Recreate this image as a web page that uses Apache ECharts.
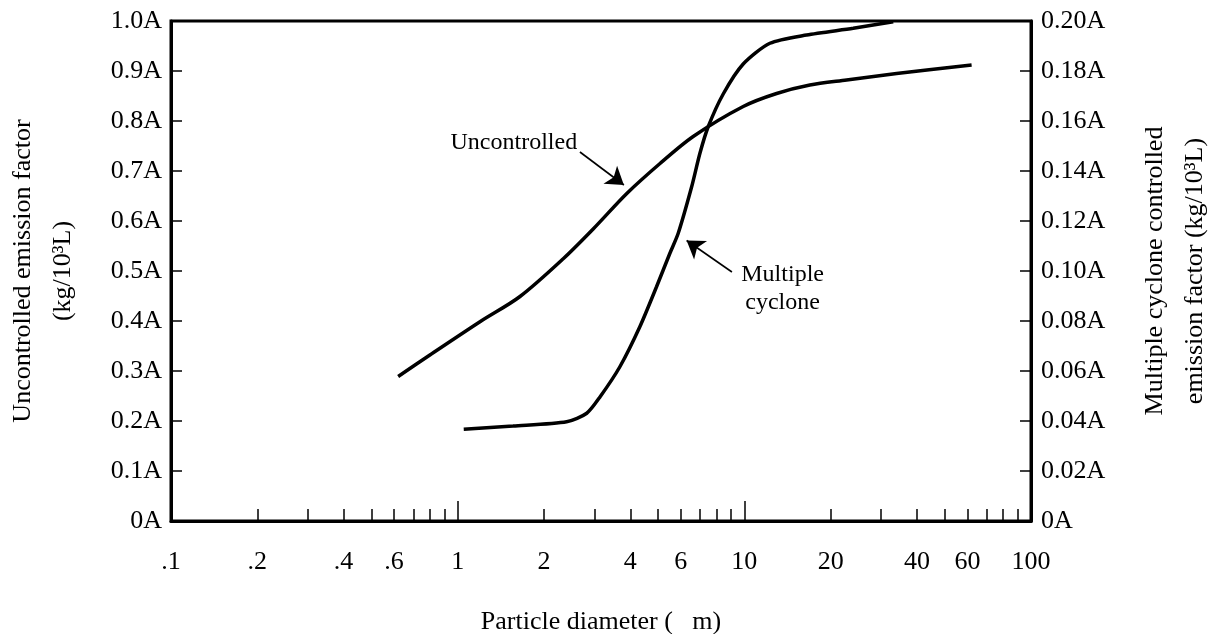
<!DOCTYPE html>
<html><head><meta charset="utf-8">
<script src="https://cdn.jsdelivr.net/npm/echarts@6/dist/echarts.min.js"></script>
<style>html,body{margin:0;padding:0;background:#fff}#c{width:1210px;height:634px}</style>
</head><body><div id="c"></div>
<script>
// ---- data ----
const xTickValues = [0.1, 0.2, 0.4, 0.6, 1, 2, 4, 6, 10, 20, 40, 60, 100];
const xTickLabels = ['.1', '.2', '.4', '.6', '1', '2', '4', '6', '10', '20', '40', '60', '100'];
const xMinorTickValues = [0.2, 0.3, 0.4, 0.5, 0.6, 0.7, 0.8, 0.9, 2, 3, 4, 5, 6, 7, 8, 9, 20, 30, 40, 50, 60, 70, 80, 90];
const xMajorTickValues = [1, 10];

const uncontrolledDiameter = [0.62, 0.80, 1.20, 1.65, 2.34, 2.97, 3.89, 5.08, 6.63, 9.91, 12.96, 16.93, 22.74, 33.98, 62.06];
const uncontrolledFactor   = [0.289, 0.332, 0.399, 0.449, 0.525, 0.584, 0.655, 0.715, 0.769, 0.829, 0.855, 0.872, 0.882, 0.895, 0.912];

const cycloneDiameter = [1.05, 1.56, 2.40, 2.82, 3.14, 3.68, 4.32, 4.94, 5.50, 5.88, 6.55, 7.00, 7.48, 8.44, 9.91, 12.28, 16.49, 23.98, 33.07];
const cycloneFactor   = [0.0367, 0.0380, 0.0397, 0.0431, 0.0497, 0.0617, 0.0777, 0.0937, 0.1071, 0.1151, 0.1337, 0.1471, 0.1577, 0.1708, 0.1828, 0.1911, 0.1944, 0.1971, 0.1997];

// ---- helpers ----
const lg = v => +Math.log10(v).toFixed(10);
const FONT = "'Liberation Serif','Times New Roman',serif";
const FS = 26;   // axis text
const FA = 24;   // annotation text

const chart = echarts.init(document.getElementById('c'), null, {renderer: 'canvas'});

const xLabelFormatter = function (val) {
  for (let i = 0; i < xTickValues.length; i++) {
    if (Math.abs(lg(xTickValues[i]) - val) < 1e-6) return xTickLabels[i];
  }
  return '';
};

const option = {
  backgroundColor: '#fff',
  animation: false,
  grid: {left: 171, right: 179, top: 21, bottom: 113, show: true, borderColor: '#000', borderWidth: 3,
         containLabel: false, outerBoundsMode: 'none'},
  xAxis: [
    {
      type: 'value', min: -1, max: 2, position: 'bottom',
      axisLine: {show: true, onZero: false, lineStyle: {color: '#000', width: 3}},
      axisTick: {show: true, inside: true, length: 12, lineStyle: {color: '#000', width: 1.5},
                 customValues: xMinorTickValues.map(lg)},
      axisLabel: {show: true, margin: 28, color: '#000', fontSize: FS, fontFamily: FONT,
                  customValues: xTickValues.map(lg), formatter: xLabelFormatter},
      splitLine: {show: false},
      name: 'Particle diameter (   m)', nameLocation: 'middle', nameGap: 88,
      nameTextStyle: {color: '#000', fontSize: FS, fontFamily: FONT}
    },
    {
      type: 'value', min: -1, max: 2, position: 'bottom',
      axisLine: {show: false, onZero: false},
      axisTick: {show: true, inside: true, length: 20, lineStyle: {color: '#000', width: 1.5},
                 customValues: xMajorTickValues.map(lg)},
      axisLabel: {show: false},
      splitLine: {show: false}
    }
  ],
  yAxis: [
    {
      type: 'value', min: 0, max: 1, interval: 0.1, position: 'left',
      axisLine: {show: true, onZero: false, lineStyle: {color: '#000', width: 3}},
      axisTick: {show: true, inside: true, length: 11, lineStyle: {color: '#000', width: 1.5}},
      axisLabel: {margin: 9, color: '#000', fontSize: FS, fontFamily: FONT,
                  formatter: v => (v === 0 ? '0A' : v.toFixed(1) + 'A')},
      splitLine: {show: false},
      name: 'Uncontrolled emission factor\n(kg/10³L)', nameLocation: 'middle', nameRotate: 90, nameGap: 88,
      nameTextStyle: {color: '#000', fontSize: FS, fontFamily: FONT, lineHeight: 40, align: 'center'}
    },
    {
      type: 'value', min: 0, max: 0.2, interval: 0.02, position: 'right',
      axisLine: {show: true, onZero: false, lineStyle: {color: '#000', width: 3}},
      axisTick: {show: true, inside: true, length: 11, lineStyle: {color: '#000', width: 1.5}},
      axisLabel: {margin: 10, color: '#000', fontSize: FS, fontFamily: FONT,
                  formatter: v => (v === 0 ? '0A' : v.toFixed(2) + 'A')},
      splitLine: {show: false},
      name: 'Multiple cyclone controlled\nemission factor (kg/10³L)', nameLocation: 'middle', nameRotate: 90, nameGap: 104,
      nameTextStyle: {color: '#000', fontSize: FS, fontFamily: FONT, lineHeight: 40, align: 'center'}
    }
  ],
  series: [
    {
      name: 'Uncontrolled', type: 'line', xAxisIndex: 0, yAxisIndex: 0,
      data: uncontrolledDiameter.map((d, i) => [lg(d), uncontrolledFactor[i]]),
      showSymbol: false, smooth: 0.3,
      lineStyle: {color: '#000', width: 3.5}, itemStyle: {color: '#000'},
      markLine: {
        silent: true, symbol: ['none', 'arrow'], symbolSize: 17,
        lineStyle: {color: '#000', width: 1.6, type: 'solid'}, label: {show: false},
        data: [[{coord: [lg(2.67), 0.738]}, {coord: [lg(3.80), 0.672]}]]
      },
      markPoint: {
        silent: true,
        data: [{coord: [lg(1.57), 0.756], symbol: 'circle', symbolSize: 0.01,
                itemStyle: {color: 'rgba(0,0,0,0)'},
                label: {show: true, position: 'inside', formatter: 'Uncontrolled', color: '#000',
                        fontSize: FA, fontFamily: FONT}}]
      }
    },
    {
      name: 'Multiple cyclone', type: 'line', xAxisIndex: 0, yAxisIndex: 1,
      data: cycloneDiameter.map((d, i) => [lg(d), cycloneFactor[i]]),
      showSymbol: false, smooth: 0.25,
      lineStyle: {color: '#000', width: 3.5}, itemStyle: {color: '#000'},
      markLine: {
        silent: true, symbol: ['none', 'arrow'], symbolSize: 17,
        lineStyle: {color: '#000', width: 1.6, type: 'solid'}, label: {show: false},
        data: [[{coord: [lg(9.05), 0.0996]}, {coord: [lg(6.29), 0.1122]}]]
      },
      markPoint: {
        silent: true,
        data: [{coord: [lg(13.6), 0.0928], symbol: 'circle', symbolSize: 0.01,
                itemStyle: {color: 'rgba(0,0,0,0)'},
                label: {show: true, position: 'inside', formatter: 'Multiple\ncyclone', color: '#000',
                        fontSize: FA, fontFamily: FONT, lineHeight: 28, align: 'center'}}]
      }
    }
  ]
};
chart.setOption(option);
</script>
</body></html>
